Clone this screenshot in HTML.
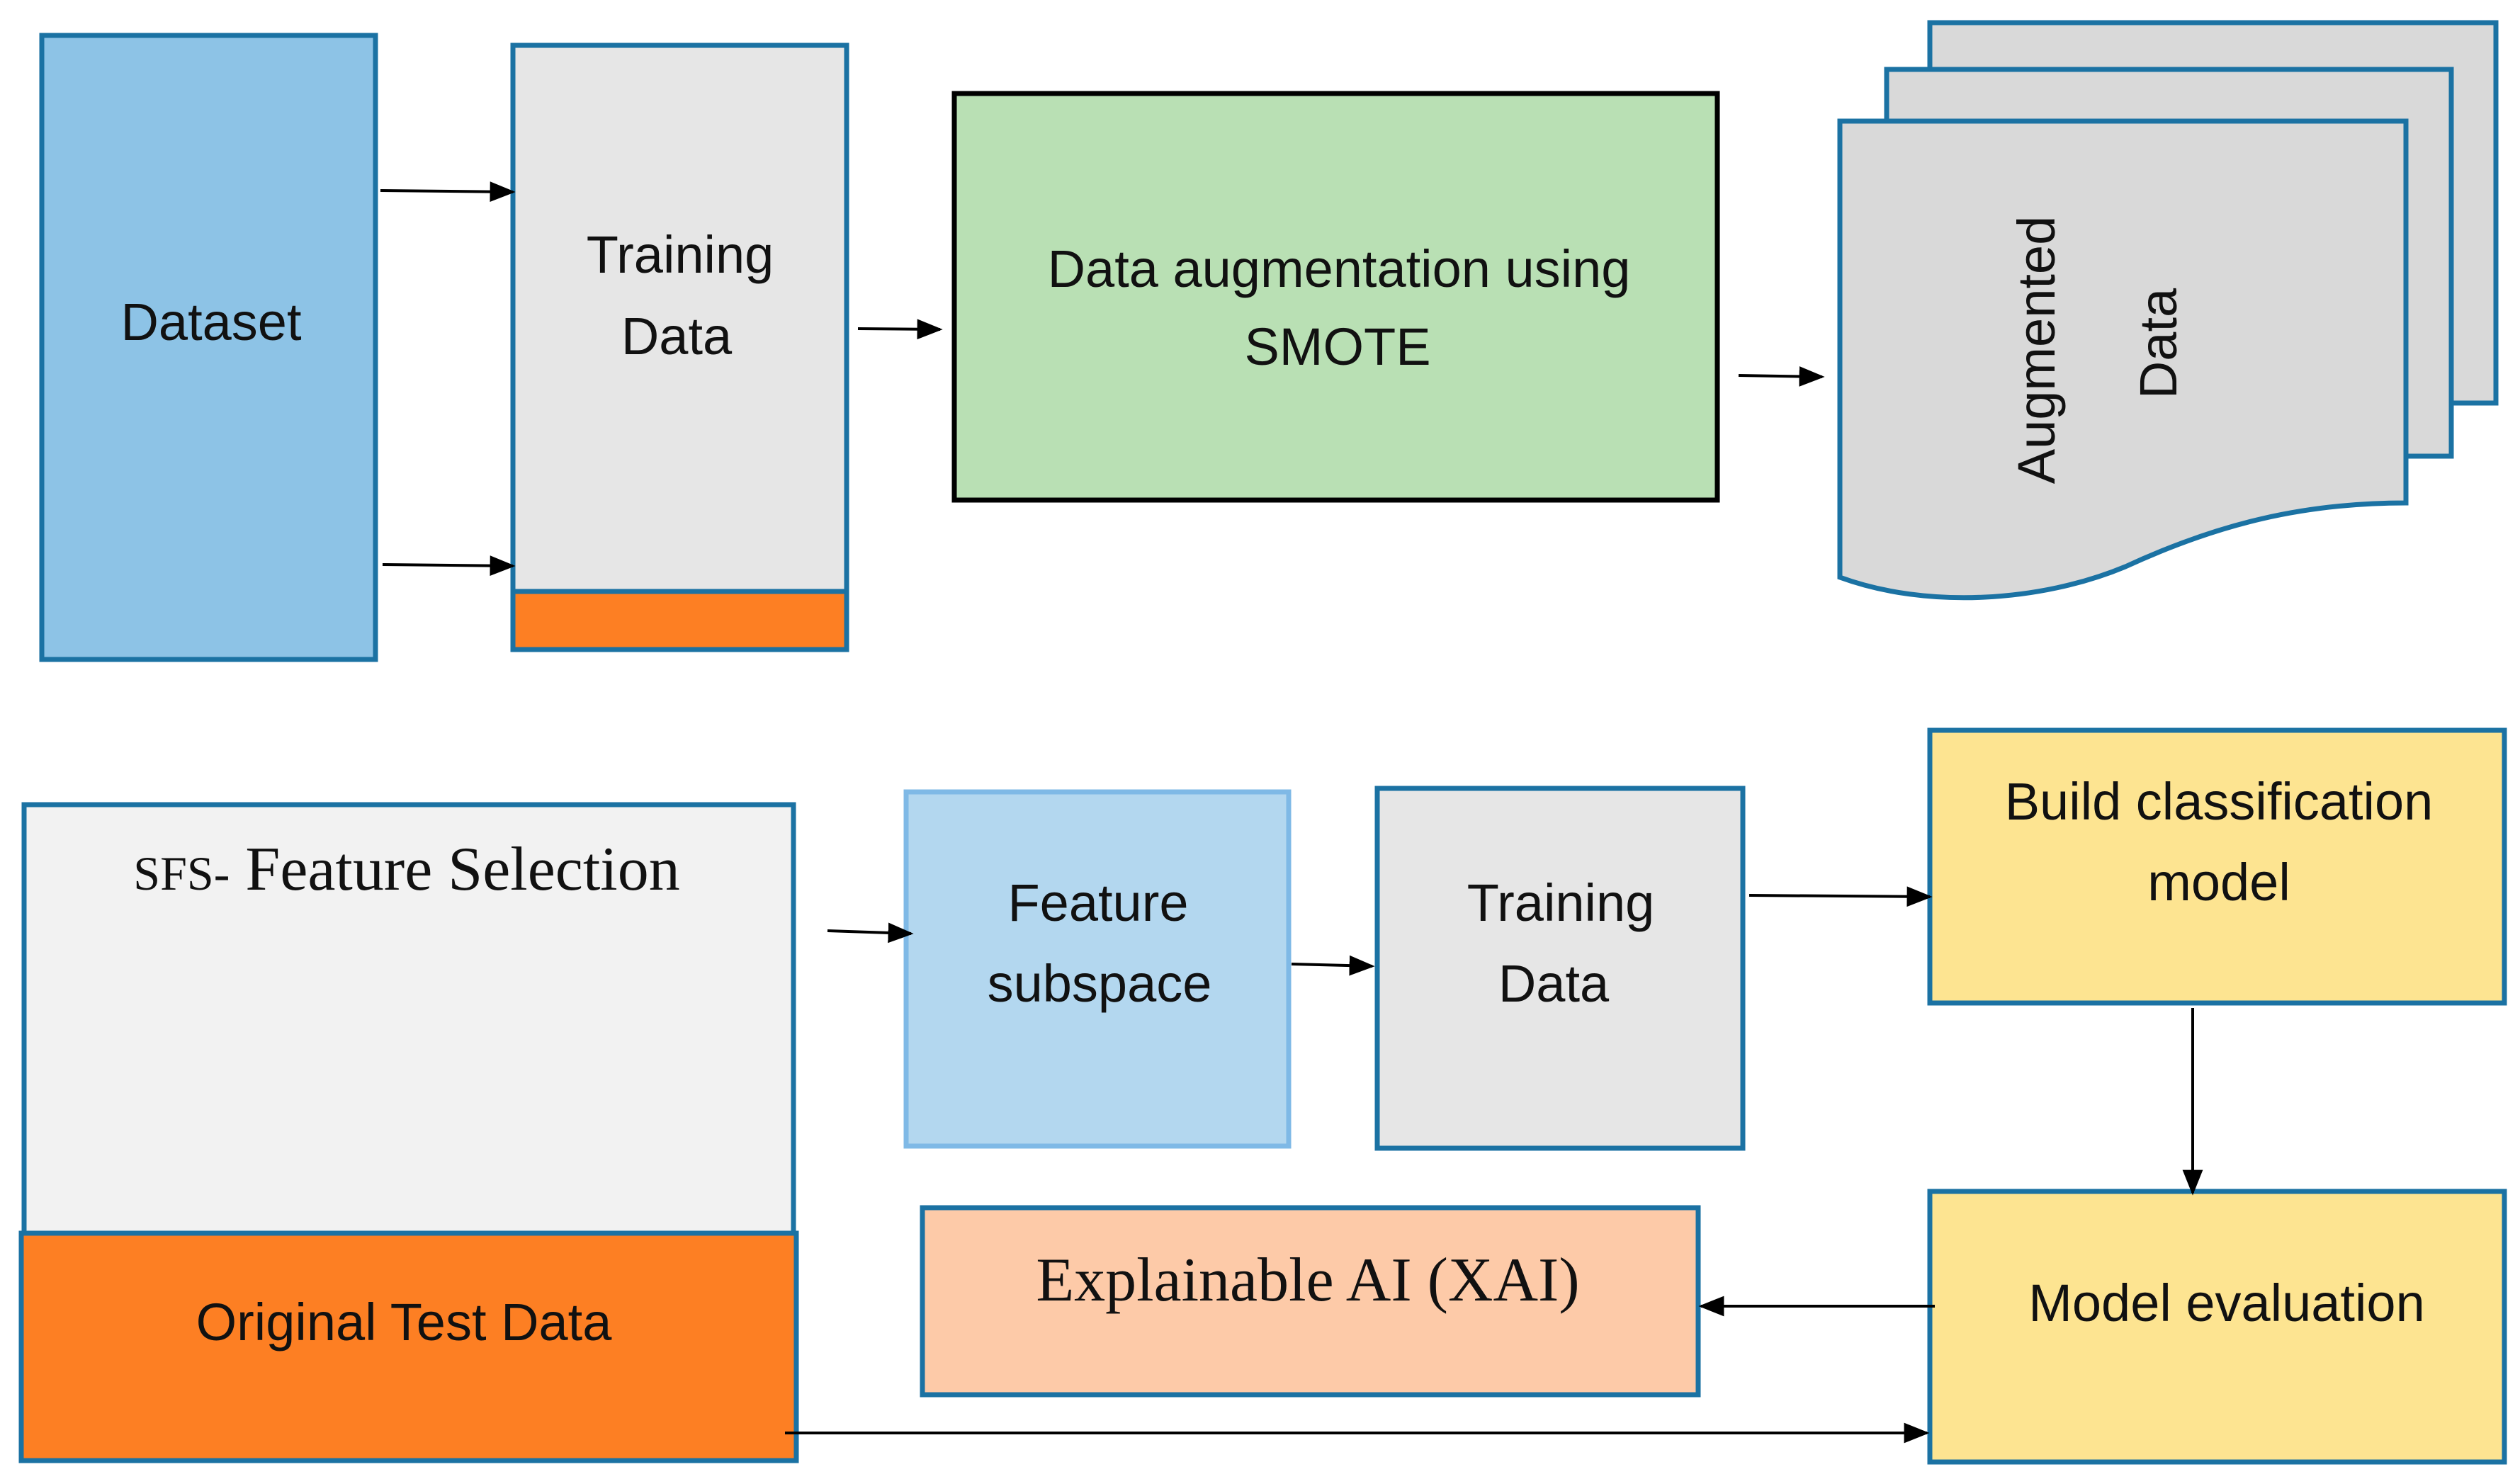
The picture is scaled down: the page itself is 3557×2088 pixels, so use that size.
<!DOCTYPE html>
<html><head><meta charset="utf-8"><style>
html,body{margin:0;padding:0;background:#fff}
svg{display:block}
.s{font-family:"Liberation Sans",sans-serif;font-size:74px;fill:#111;text-anchor:middle}
.r{font-family:"Liberation Serif",serif;font-size:88px;fill:#111;text-anchor:middle}
</style></head><body>
<svg width="3557" height="2088" viewBox="0 0 3557 2088" xmlns="http://www.w3.org/2000/svg">
<defs>
<marker id="b" viewBox="0 0 10 8" refX="9" refY="4" markerWidth="36" markerHeight="30" orient="auto" markerUnits="userSpaceOnUse"><path d="M0,0 L10,4 L0,8 z" fill="#000"/></marker></defs>
<g stroke="#1b72a3" stroke-width="7">
<rect x="59" y="50" width="471" height="881" fill="#8dc3e6"/>
<rect x="724" y="64" width="471" height="853" fill="#e6e6e6"/>
<rect x="724" y="835" width="471" height="82" fill="#fd7f23"/>
<rect x="2724" y="32" width="799" height="537" fill="#d9d9d9"/>
<rect x="2663" y="98" width="797" height="546" fill="#d9d9d9"/>
<path d="M2597,171 L3396,171 L3396,710 C3250,710 3130,740 3000,800 C2880,850 2720,860 2597,815 Z" fill="#d9d9d9"/>
<rect x="34" y="1136" width="1086" height="605" fill="#f2f2f2"/>
<rect x="30" y="1741" width="1094" height="321" fill="#fd7f23"/>
<rect x="1279" y="1118" width="540" height="500" fill="#b3d7ef" stroke="#7fb9e6"/>
<rect x="1944" y="1113" width="516" height="508" fill="#e6e6e6"/>
<rect x="2724" y="1031" width="811" height="385" fill="#fde491"/>
<rect x="2724" y="1682" width="811" height="382" fill="#fde491"/>
<rect x="1302" y="1705" width="1095" height="264" fill="#fdcaa8"/>
</g>
<rect x="1347" y="132" width="1077" height="574" fill="#b9e0b4" stroke="#000" stroke-width="7"/>
<g stroke="#000" stroke-width="4" marker-end="url(#b)">
<line x1="537" y1="269" x2="724" y2="271"/>
<line x1="540" y1="797" x2="724" y2="799"/>
<line x1="1211" y1="464" x2="1327" y2="465"/>
<line x1="2454" y1="530" x2="2572" y2="532"/>
<line x1="1168" y1="1314" x2="1286" y2="1318"/>
<line x1="1823" y1="1361" x2="1937" y2="1364"/>
<line x1="2469" y1="1264" x2="2724" y2="1266"/>
<line x1="3095" y1="1423" x2="3095" y2="1684"/>
<line x1="2731" y1="1844" x2="2401" y2="1844"/>
<line x1="1108" y1="2023" x2="2720" y2="2023"/>
</g>
<text class="s" x="298" y="480">Dataset</text>
<text class="s" x="960" y="385">Training</text>
<text class="s" x="955" y="500">Data</text>
<text class="s" x="1890" y="405">Data augmentation using</text>
<text class="s" x="1888" y="515">SMOTE</text>
<text class="s" transform="translate(2900,494) rotate(-90)">Augmented</text>
<text class="s" transform="translate(3072,485) rotate(-90)">Data</text>
<text class="r" x="574" y="1256"><tspan font-size="68">SFS-</tspan> Feature Selection</text>
<text class="s" x="570" y="1892">Original Test Data</text>
<text class="s" x="1550" y="1300">Feature</text>
<text class="s" x="1552" y="1414">subspace</text>
<text class="s" x="2203" y="1300">Training</text>
<text class="s" x="2193" y="1414">Data</text>
<text class="s" x="3132" y="1157">Build classification</text>
<text class="s" x="3132" y="1271">model</text>
<text class="s" x="3143" y="1865">Model evaluation</text>
<text class="r" x="1846" y="1836">Explainable AI (XAI)</text>
</svg>
</body></html>
